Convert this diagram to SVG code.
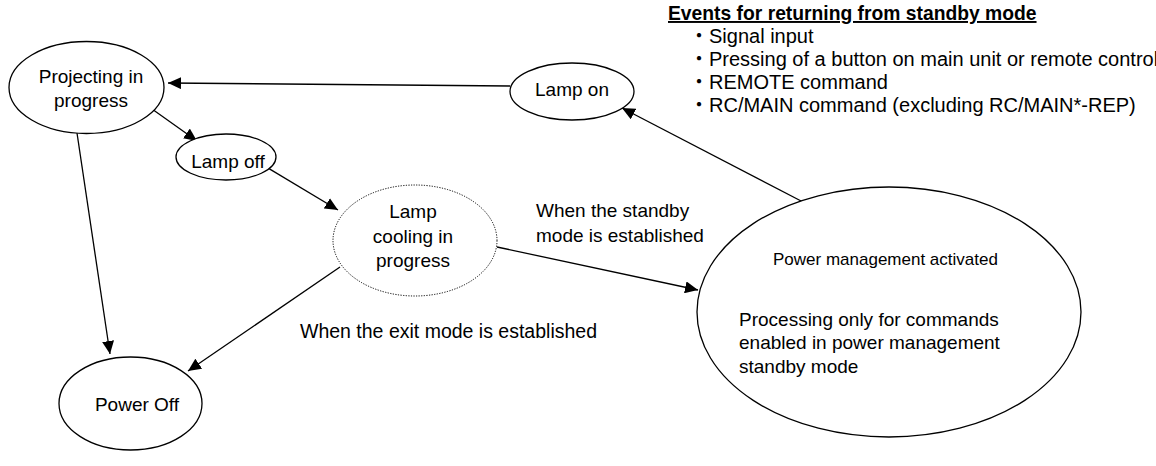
<svg xmlns="http://www.w3.org/2000/svg" width="1156" height="466" viewBox="0 0 1156 466">
<style>
text{font-family:"Liberation Sans","Noto Sans CJK JP",Arial,sans-serif;font-size:19px;fill:#000}
.node{fill:#fff;stroke:#000;stroke-width:1.3}
.dot{fill:#fff;stroke:#000;stroke-width:1;stroke-dasharray:1.2 1.4}
.c{text-anchor:middle}
.conn line{stroke:#000;stroke-width:1.3;marker-end:url(#ah)}
.hdr{font-weight:bold;text-decoration:underline;font-size:19.3px}
.li{font-size:20px}
</style>
<defs>
<marker id="ah" markerUnits="userSpaceOnUse" markerWidth="14" markerHeight="12" refX="13" refY="6" orient="auto">
<path d="M0,0 L13,6 L0,12 Z" fill="#000"/>
</marker>
</defs>
<rect width="1156" height="466" fill="#fff"/>
<g id="connectors" class="conn">
<line x1="510" y1="86" x2="168" y2="83"/>
<line x1="152" y1="109" x2="197" y2="141"/>
<line x1="269" y1="168.6" x2="338" y2="210"/>
<line x1="497" y1="247" x2="698" y2="290"/>
<line x1="340" y1="267" x2="188" y2="371"/>
<line x1="77" y1="133" x2="110" y2="354"/>
<line x1="803" y1="202" x2="622" y2="108"/>
</g>
<g id="projecting">
<ellipse class="node" cx="86.5" cy="87.5" rx="77.5" ry="46"/>
<text class="c" x="91" y="83">Projecting in</text>
<text class="c" x="91" y="107">progress</text>
</g>
<g id="lamp-on">
<ellipse class="node" cx="572" cy="91.5" rx="62" ry="28.5"/>
<text class="c" x="572" y="96">Lamp on</text>
</g>
<g id="lamp-off">
<ellipse class="node" cx="226" cy="157" rx="50" ry="23"/>
<text class="c" x="228" y="168">Lamp off</text>
</g>
<g id="lamp-cooling">
<ellipse class="dot" cx="415" cy="240.5" rx="82" ry="55.5"/>
<text class="c" x="413" y="218">Lamp</text>
<text class="c" x="413" y="242.5">cooling in</text>
<text class="c" x="413" y="267">progress</text>
</g>
<g id="power-management">
<ellipse class="node" cx="889" cy="312" rx="192" ry="125"/>
<text x="773" y="265" style="font-size:17px">Power management activated</text>
<text x="739" y="326">Processing only for commands</text>
<text x="739" y="349">enabled in power management</text>
<text x="739" y="373">standby mode</text>
</g>
<g id="power-off">
<ellipse class="node" cx="130.5" cy="403.5" rx="71.5" ry="46.5"/>
<text class="c" x="137" y="411">Power Off</text>
</g>
<g id="labels">
<text x="536" y="217">When the standby</text>
<text x="536" y="242">mode is established</text>
<text x="300" y="338" style="font-size:19.5px">When the exit mode is established</text>
</g>
<g id="events">
<text class="hdr" x="668" y="20">Events for returning from standby mode</text>
<text class="li" x="689" y="43">・Signal input</text>
<text class="li" x="689" y="66">・Pressing of a button on main unit or remote control</text>
<text class="li" x="689" y="89">・REMOTE command</text>
<text class="li" x="689" y="112">・RC/MAIN command (excluding RC/MAIN*-REP)</text>
</g>
</svg>
